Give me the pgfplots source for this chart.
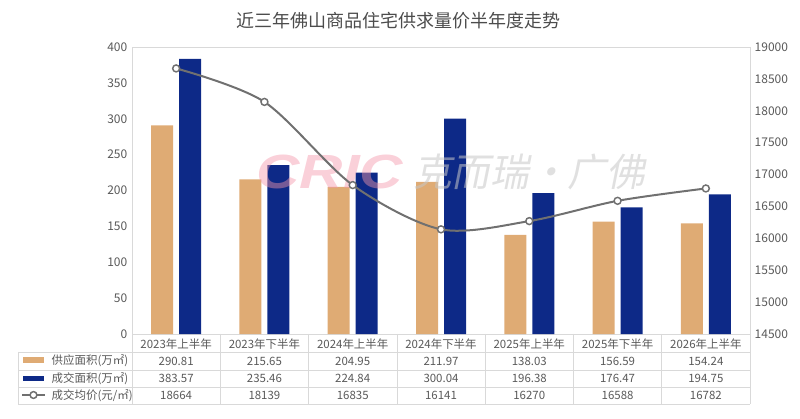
\documentclass[border=0pt]{standalone}
\usepackage{pgfplots}
\pgfplotsset{compat=1.18}
\usepackage{fontspec}
\setmainfont{Noto Sans CJK SC}
\newfontfamily\wmfont{Liberation Sans}

\definecolor{supply}{RGB}{223,171,116}
\definecolor{deal}{RGB}{13,41,135}
\definecolor{priceline}{RGB}{112,112,112}
\definecolor{txt}{RGB}{89,89,89}
\definecolor{gridc}{RGB}{217,217,217}
\definecolor{wmpink}{RGB}{244,150,170}

\pgfplotsset{
  panel/.style={
    at={(99pt,63pt)}, anchor=south west, scale only axis,
    width=463.5pt, height=215.25pt,
    xmin=-0.5, xmax=6.5,
    major tick length=0pt,
    axis line style={draw=gridc},
    tick label style={font=\fontsize{9}{10}\selectfont, text=txt},
    /pgf/number format/assume math mode=true,
    /pgf/number format/1000 sep={},
    scaled y ticks=false,
  },
}

\begin{document}
\begin{tikzpicture}

% bars: supply and transaction area (left axis)
\begin{axis}[
  panel,
  ymin=0, ymax=400,
  ytick distance=50,
  xtick={0,...,6},
  xticklabels={2023年上半年,2023年下半年,2024年上半年,2024年下半年,2025年上半年,2025年下半年,2026年上半年},
  xticklabel style={font=\fontsize{8.6}{10}\selectfont},
  ybar, bar width=16.5pt,
]
\addplot[fill=supply, draw=none, bar shift=-10.5pt] coordinates {
  (0,290.81) (1,215.65) (2,204.95) (3,211.97) (4,138.03) (5,156.59) (6,154.24)};
\addplot[fill=deal, draw=none, bar shift=10.5pt] coordinates {
  (0,383.57) (1,235.46) (2,224.84) (3,300.04) (4,196.38) (5,176.47) (6,194.75)};
\end{axis}

\begin{scope}[x=0.75pt,y=0.75pt]
% watermark
\node[font=\wmfont\bfseries\itshape\fontsize{36}{36}\selectfont, text=wmpink, opacity=0.45, xscale=1.25] at (330,246) {CRIC};
\node[font=\fontsize{29}{30}\selectfont, text=black!22, opacity=0.55, xslant=0.2] at (532,246) {克而瑞·广佛};
\end{scope}

% average price (right axis)
\begin{axis}[
  panel,
  ymin=14500, ymax=19000,
  ytick distance=500,
  axis x line=none, axis y line*=right,
]
\addplot[smooth, priceline, line width=1.5pt, mark=*, mark size=2.6pt,
  mark options={fill=white, draw=priceline, line width=1.1pt}] coordinates {
  (0,18664) (1,18139) (2,16835) (3,16141) (4,16270) (5,16588) (6,16782)};
\end{axis}

\begin{scope}[x=0.75pt,y=0.75pt]
\node[font=\fontsize{13.5}{16}\selectfont, text=txt!85!black] at (398,397) {近三年佛山商品住宅供求量价半年度走势};

% data table
\foreach \k in {0,...,7} \draw[gridc] ({132+\k*88.2857},84) -- ({132+\k*88.2857},14);
\foreach \y in {66,48,31,14} \draw[gridc] (18,\y) -- (750,\y);
\draw[gridc] (18,66) -- (18,14);

\begin{scope}[every node/.style={font=\fontsize{8.6}{10}\selectfont, text=txt}]
\foreach \v [count=\i from 0] in {290.81,215.65,204.95,211.97,138.03,156.59,154.24}
  \node at ({132+(\i+0.5)*88.2857},57) {\v};
\foreach \v [count=\i from 0] in {383.57,235.46,224.84,300.04,196.38,176.47,194.75}
  \node at ({132+(\i+0.5)*88.2857},39.5) {\v};
\foreach \v [count=\i from 0] in {18664,18139,16835,16141,16270,16588,16782}
  \node at ({132+(\i+0.5)*88.2857},22.5) {\v};

\fill[supply] (23,55) rectangle (44,60.5);
\fill[deal] (23,37) rectangle (44,42.3);
\draw[priceline, line width=1.5pt] (22,23) -- (45,23);
\draw[priceline, line width=1.1pt, fill=white] (33.5,23) circle (3.4);
\node[anchor=west] at (47,57) {供应面积(万㎡)};
\node[anchor=west] at (47,39.5) {成交面积(万㎡)};
\node[anchor=west] at (47,22.5) {成交均价(元/㎡)};
\end{scope}

% canvas 800 x 418
\pgfresetboundingbox
\path[use as bounding box] (0,0) rectangle (800,418);
\end{scope}
\end{tikzpicture}
\end{document}
